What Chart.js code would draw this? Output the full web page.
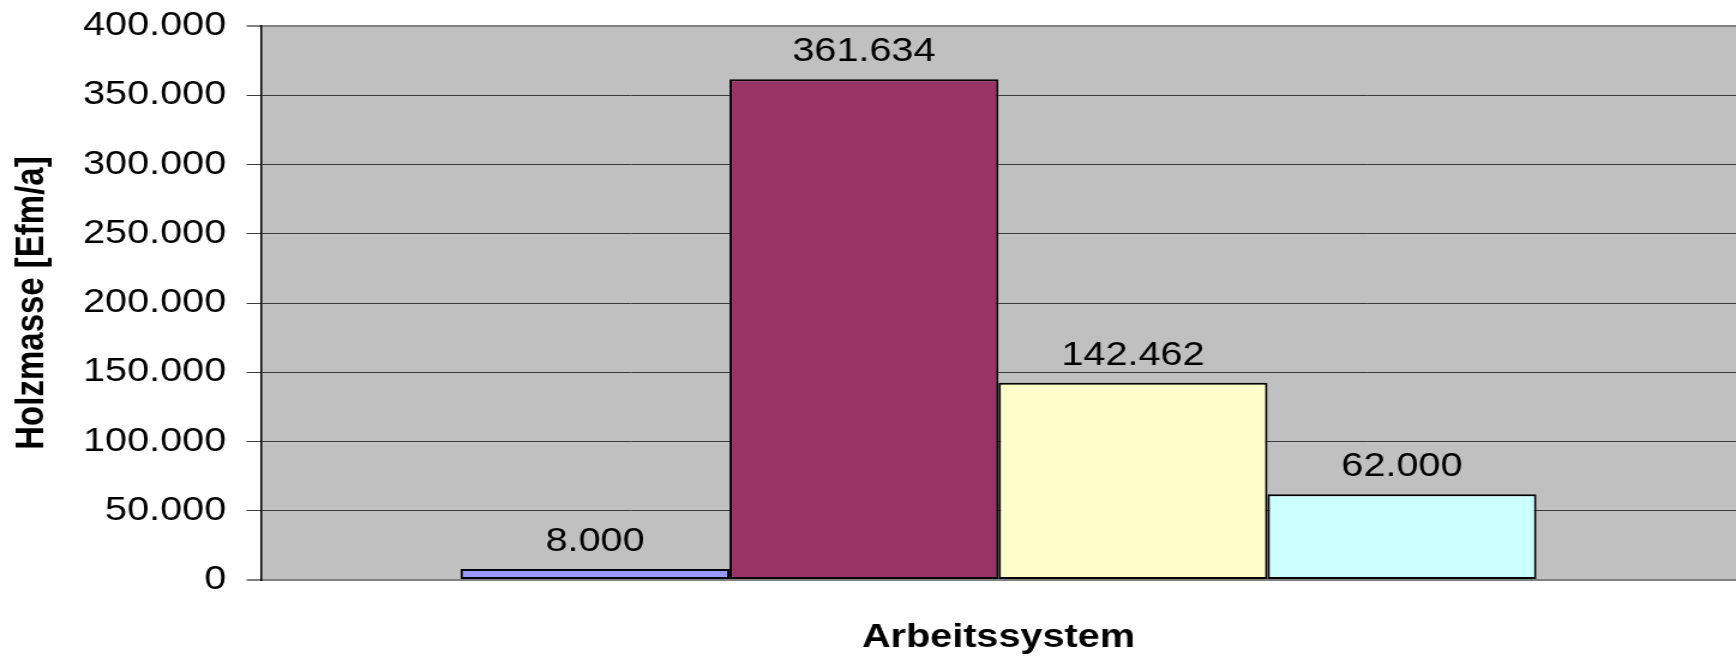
<!DOCTYPE html>
<html><head><meta charset="utf-8">
<script src="https://cdn.jsdelivr.net/npm/chart.js@4/dist/chart.umd.min.js"></script>
<style>
html,body{margin:0;padding:0;background:#fff;overflow:hidden;width:1736px;height:657px;}
#wrap{width:1447px;height:657px;transform:scaleX(1.19972);transform-origin:0 0;}
canvas{display:block;}
</style></head><body>
<div id="wrap"><canvas id="c" width="1447" height="657"></canvas></div>
<script>
const categories = [''];
const seriesNames = ['Serie 1', 'Serie 2', 'Serie 3', 'Serie 4'];
const seriesValues = [8000, 361634, 142462, 62000];
const valueLabels = ['8.000', '361.634', '142.462', '62.000'];
const seriesColors = ['#9999FF', '#993366', '#FFFFCC', '#CCFFFF'];
const yTickValues = [0, 50000, 100000, 150000, 200000, 250000, 300000, 350000, 400000];
const yTickLabels = ['0', '50.000', '100.000', '150.000', '200.000', '250.000', '300.000', '350.000', '400.000'];
const xTitle = 'Arbeitssystem';
const yTitle = 'Holzmasse [Efm/a]';

const FONT = "'Liberation Sans', Arial, sans-serif";

const plotBg = {
  id: 'plotBg',
  beforeDraw(chart) {
    const {ctx, chartArea: a} = chart;
    ctx.save();
    ctx.fillStyle = '#C0C0C0';
    ctx.fillRect(a.left, a.top, a.right - a.left, a.bottom - a.top);
    ctx.restore();
  }
};

const valueLabelPlugin = {
  id: 'valueLabels',
  afterDatasetsDraw(chart) {
    const ctx = chart.ctx;
    ctx.save();
    ctx.font = '33px ' + FONT;
    ctx.fillStyle = '#000';
    ctx.textAlign = 'center';
    ctx.textBaseline = 'alphabetic';
    chart.data.datasets.forEach((ds, i) => {
      const meta = chart.getDatasetMeta(i);
      meta.data.forEach((el) => {
        ctx.fillText(valueLabels[i], el.x, el.y - 18);
      });
    });
    ctx.restore();
  }
};

new Chart(document.getElementById('c'), {
  type: 'bar',
  data: {
    labels: categories,
    datasets: seriesNames.map((name, i) => ({
      label: name,
      data: [seriesValues[i]],
      backgroundColor: seriesColors[i],
      borderColor: '#000',
      borderWidth: 2,
      borderSkipped: false,
      categoryPercentage: 0.7294,
      barPercentage: 1.0
    }))
  },
  options: {
    responsive: false,
    animation: false,
    devicePixelRatio: 1,
    layout: { padding: { top: 26, right: 0, left: 0, bottom: 0 } },
    plugins: { legend: { display: false }, tooltip: { enabled: false } },
    scales: {
      x: {
        grid: { display: false },
        border: { display: true, color: '#808080', width: 2 },
        ticks: { display: false },
        title: {
          display: true, text: xTitle, color: '#000',
          font: { family: FONT, size: 33, weight: 'bold', lineHeight: 1 },
          padding: { top: 0, bottom: 3 }
        },
        afterFit(scale) { scale.height = 77; scale.paddingLeft = 0; scale.paddingRight = 0; }
      },
      y: {
        min: 0, max: 400000,
        afterBuildTicks(scale) { scale.ticks = yTickValues.map(v => ({ value: v })); },
        grid: {
          color: (c) => (c.tick && (c.tick.value === 400000 || c.tick.value === 0)) ? '#808080' : '#3a3a3a',
          lineWidth: (c) => (c.tick && (c.tick.value === 400000 || c.tick.value === 0)) ? 2 : 1,
          tickLength: 12,
          drawTicks: true
        },
        border: { display: true, color: '#000', width: 1.5 },
        ticks: {
          color: '#000',
          padding: 17,
          font: { family: FONT, size: 33 },
          callback: (v) => yTickLabels[yTickValues.indexOf(v)]
        },
        title: {
          display: true, text: yTitle, color: '#000',
          font: { family: FONT, size: 33, weight: 'bold', lineHeight: 1.2 },
          padding: { top: 7, bottom: 0 }
        },
        afterFit(scale) { scale.width = 217.5; scale.paddingTop = 0; scale.paddingBottom = 0; }
      }
    }
  },
  plugins: [plotBg, valueLabelPlugin]
});
</script>
</body></html>
